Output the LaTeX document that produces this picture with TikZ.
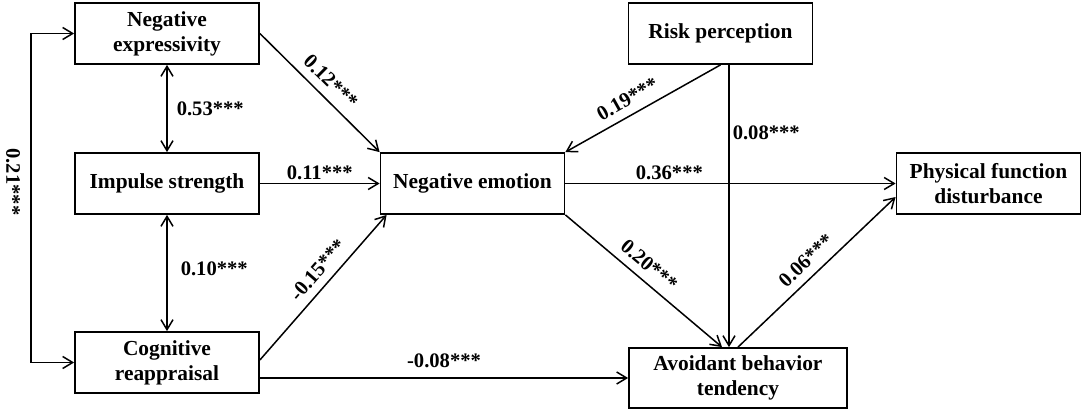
\documentclass[tikz,border=0pt]{standalone}
\usepackage{fontspec}
\setmainfont{Liberation Serif}
\usetikzlibrary{arrows.meta,calc}

\begin{document}
\begin{tikzpicture}[x=0.5pt,y=-0.5pt,>={Straight Barb[length=5pt,width=6pt]}]
    \tikzstyle{box} = [draw=black, line width=0.9pt, minimum width=92pt, minimum height=30.5pt, align=center, inner sep=1pt, font=\fontsize{10.7}{12.5}\selectfont\bfseries]
    \tikzstyle{link} = [line width=0.75pt]
    \tikzstyle{coef} = [font=\fontsize{10.3}{12}\selectfont\bfseries, inner sep=1.5pt]
    \useasboundingbox (0,0) rectangle (1084,413);
    % variables
    \node[box] (negexp) at (167,33.5) {Negative\\expressivity};
    \node[box] (impulse) at (167,183.5) {Impulse strength};
    \node[box] (cogreap) at (167,362.5) {Cognitive\\reappraisal};
    \node[box] (negemo) at (472.5,183.5) {Negative emotion};
    \node[box] (risk) at (720.5,33.5) {Risk perception};
    \node[box, minimum width=109pt, minimum height=30pt] (avoid) at (738,378) {Avoidant behavior\\tendency};
    \node[box] (physical) at (988.5,183.5) {Physical function\\disturbance};
    \coordinate (rv) at ($(risk.south)+(8.5,0)$);
    % correlations
    \draw[link, <->] (negexp.south) -- node[coef, right=3pt, pos=0.5] {0.53***} (impulse.north);
    \draw[link, <->] (impulse.south) -- node[coef, right=5pt, pos=0.46] {0.10***} (cogreap.north);
    \draw[link, <->] (negexp.west) -- ++(-43,0) -- ($(cogreap.west)+(-43,0)$) -- (cogreap.west);
    \node[coef, rotate=-90] (r21) at (13,182) {0.21***};
    % paths
    \draw[link, ->] (negexp.east) -- node[coef, above=2.5pt, sloped, pos=0.5] {0.12***} (negemo.north west);
    \draw[link, ->] (impulse.east) -- node[coef, above, pos=0.5] {0.11***} (negemo.west);
    \draw[link, ->] ($(cogreap.east)+(0,-2.5)$) -- node[coef, above=2.5pt, sloped, pos=0.55] {-0.15***} ($(negemo.south west)+(7,0)$);
    \draw[link, ->] (cogreap.east |- avoid.west) -- node[coef, above=3pt, pos=0.5] {-0.08***} (avoid.west);
    \draw[link, ->] (risk.south) -- node[coef, above=2.5pt, sloped, pos=0.55] {0.19***} (negemo.north east);
    \draw[link, ->] (rv) -- node[coef, right=0pt, pos=0.24] {0.08***} (rv |- avoid.north);
    \draw[link, ->] (negemo.east) -- node[coef, above, pos=0.315] {0.36***} (physical.west);
    \draw[link, ->] (negemo.south east) -- node[coef, above=2.5pt, sloped, pos=0.47] {0.20***} ($(avoid.north)+(-16,0)$);
    \draw[link, ->] (avoid.north) -- node[coef, above=2.5pt, sloped, pos=0.5] {0.06***} ($(physical.west)+(0,13.5)$);
\end{tikzpicture}
\end{document}
